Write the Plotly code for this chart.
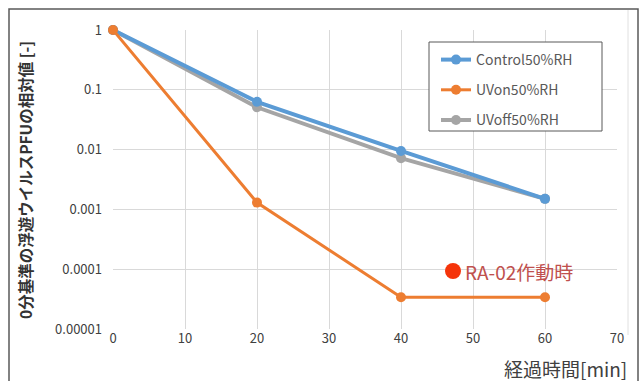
import plotly.graph_objects as go

# elapsed time [min]
minutes = [0, 20, 40, 60]
# relative airborne virus PFU (normalised to t = 0)
control_50rh = [1.0, 0.063, 0.0095, 0.0015]
uv_on_50rh = [1.0, 0.0013, 0.000034, 0.000034]
uv_off_50rh = [1.0, 0.051, 0.0072, 0.0015]

series_names = ["Control50%RH", "UVon50%RH", "UVoff50%RH"]
series_colors = ["#5b9bd5", "#ed7d31", "#a5a5a5"]

y_tick_vals = [1, 0.1, 0.01, 0.001, 0.0001, 0.00001]
y_tick_text = ["1", "0.1", "0.01", "0.001", "0.0001", "0.00001"]
x_tick_vals = [0, 10, 20, 30, 40, 50, 60, 70]

W, H = 643, 381
PL, PR, PT, PB = 113, 617, 30, 329  # plot area in pixels


def px(x):
    return (x - PL) / (PR - PL)


def py(y):
    return (PB - y) / (PB - PT)


fig = go.Figure()

line_widths = [4, 3, 4]
for i, (name, vals) in enumerate(zip(series_names, [control_50rh, uv_on_50rh, uv_off_50rh])):
    fig.add_trace(go.Scatter(
        x=minutes, y=vals, name=name, mode="lines+markers",
        line=dict(color=series_colors[i], width=line_widths[i]),
        marker=dict(color=series_colors[i], size=10),
        cliponaxis=False, legendgroup=name,
    ))

# draw order: gray, blue on top of gray, orange last
fig.data = (fig.data[2], fig.data[0], fig.data[1])

font_main = "Noto Sans CJK JP, Noto Sans, sans-serif"

fig.update_layout(
    width=W, height=H,
    margin=dict(l=PL, r=W - PR, t=PT, b=H - PB),
    paper_bgcolor="white", plot_bgcolor="white",
    font=dict(family=font_main, color="#404040", size=13),
    showlegend=True,
    legend=dict(
        x=px(436), y=py(44), xanchor="left", yanchor="top",
        bgcolor="rgba(0,0,0,0)", borderwidth=0,
        font=dict(size=14, color="#595959"),
        traceorder="grouped", tracegroupgap=9,
        itemwidth=30,
    ),
    xaxis=dict(
        range=[0, 70], tickvals=x_tick_vals, showgrid=True,
        gridcolor="#d9d9d9", gridwidth=1, zeroline=False,
        showline=False, ticks="", tickfont=dict(size=13, color="#404040"),
    ),
    yaxis=dict(
        type="log", range=[-5, 0], tickvals=y_tick_vals, ticktext=y_tick_text,
        showgrid=True, gridcolor="#d9d9d9", gridwidth=1, zeroline=False,
        showline=False, ticks="", ticklabelstandoff=10,
        tickfont=dict(size=13, color="#404040"),
    ),
)

# legend order: Control, UVon, UVoff
for tr in fig.data:
    tr.legendrank = series_names.index(tr.name)

shapes = []
# outer chart frame
shapes.append(dict(type="rect", xref="paper", yref="paper",
                   x0=px(9), x1=px(638), y0=py(395), y1=py(9),
                   line=dict(color="#595959", width=1.5)))
shapes.append(dict(type="line", xref="paper", yref="paper",
                   x0=px(628), x1=px(628), y0=py(335), y1=py(10),
                   line=dict(color="#e0e0e0", width=1)))
# legend box
shapes.append(dict(type="rect", xref="paper", yref="paper",
                   x0=px(429), x1=px(602), y0=py(131), y1=py(42),
                   fillcolor="white", line=dict(color="#595959", width=1),
                   layer="above"))
# red marker of the note
shapes.append(dict(type="circle", xref="paper", yref="paper",
                   x0=px(445), x1=px(461), y0=py(279), y1=py(263),
                   fillcolor="#f5340a", line=dict(color="#f5340a", width=0),
                   layer="above"))
fig.update_layout(shapes=shapes)

annotations = [
    dict(text="0分基準の浮遊ウイルスPFUの相対値 [-]", textangle=-90,
         xref="paper", yref="paper", x=px(25), y=py(180),
         xanchor="center", yanchor="middle", showarrow=False,
         font=dict(size=15.5, color="#333333", family=font_main, weight="bold")),
    dict(text="経過時間[min]", xref="paper", yref="paper",
         x=px(629), y=py(368), xanchor="right", yanchor="middle",
         showarrow=False, font=dict(size=19, color="#404040")),
    dict(text="RA-02作動時", xref="paper", yref="paper",
         x=px(463), y=py(271), xanchor="left", yanchor="middle",
         showarrow=False, font=dict(size=19, color="#c0504d")),
]
fig.update_layout(annotations=annotations)

fig.write_html("out.html")
